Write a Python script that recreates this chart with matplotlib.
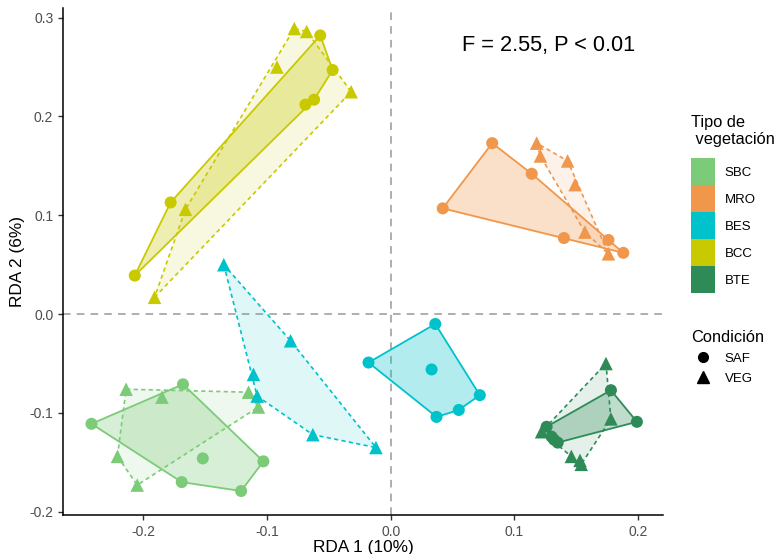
import numpy as np
import matplotlib
matplotlib.use('Agg')
import matplotlib.pyplot as plt
from matplotlib.patches import Patch, Polygon
from matplotlib.lines import Line2D

plt.rcParams['font.family'] = ['Liberation Sans', 'DejaVu Sans']

# datos (RDA1, RDA2)
veg_names = ['SBC', 'MRO', 'BES', 'BCC', 'BTE']
veg_colors = ['#7ccb78', '#f0974c', '#00c2cb', '#c9c900', '#2e8b57']

sbc_saf_x = [-0.168, -0.242, -0.152, -0.103, -0.169, -0.121]
sbc_saf_y = [-0.071, -0.111, -0.146, -0.149, -0.170, -0.179]
sbc_veg_x = [-0.214, -0.185, -0.115, -0.107, -0.221, -0.205]
sbc_veg_y = [-0.076, -0.084, -0.079, -0.094, -0.144, -0.173]

mro_saf_x = [0.082, 0.114, 0.042, 0.140, 0.176, 0.188]
mro_saf_y = [0.173, 0.142, 0.107, 0.077, 0.075, 0.062]
mro_veg_x = [0.118, 0.121, 0.143, 0.149, 0.157, 0.176]
mro_veg_y = [0.173, 0.160, 0.155, 0.131, 0.083, 0.061]

bes_saf_x = [0.036, -0.018, 0.033, 0.072, 0.055, 0.037]
bes_saf_y = [-0.010, -0.049, -0.056, -0.082, -0.097, -0.104]
bes_veg_x = [-0.135, -0.081, -0.111, -0.108, -0.063, -0.012]
bes_veg_y = [0.050, -0.027, -0.061, -0.083, -0.122, -0.135]

bcc_saf_x = [-0.057, -0.047, -0.062, -0.069, -0.178, -0.207]
bcc_saf_y = [0.282, 0.247, 0.217, 0.212, 0.113, 0.039]
bcc_veg_x = [-0.078, -0.068, -0.092, -0.032, -0.166, -0.191]
bcc_veg_y = [0.289, 0.286, 0.250, 0.225, 0.106, 0.017]

bte_saf_x = [0.178, 0.199, 0.126, 0.130, 0.135, 0.132]
bte_saf_y = [-0.077, -0.109, -0.114, -0.124, -0.130, -0.127]
bte_veg_x = [0.174, 0.178, 0.122, 0.146, 0.153, 0.154]
bte_veg_y = [-0.050, -0.106, -0.119, -0.144, -0.148, -0.152]

groups = [
    (sbc_saf_x, sbc_saf_y, sbc_veg_x, sbc_veg_y),
    (mro_saf_x, mro_saf_y, mro_veg_x, mro_veg_y),
    (bes_saf_x, bes_saf_y, bes_veg_x, bes_veg_y),
    (bcc_saf_x, bcc_saf_y, bcc_veg_x, bcc_veg_y),
    (bte_saf_x, bte_saf_y, bte_veg_x, bte_veg_y),
]


def hull(x, y):
    pts = sorted(set(zip(x, y)))
    def cross(o, a, b):
        return (a[0]-o[0])*(b[1]-o[1]) - (a[1]-o[1])*(b[0]-o[0])
    lower, upper = [], []
    for p in pts:
        while len(lower) >= 2 and cross(lower[-2], lower[-1], p) <= 0:
            lower.pop()
        lower.append(p)
    for p in reversed(pts):
        while len(upper) >= 2 and cross(upper[-2], upper[-1], p) <= 0:
            upper.pop()
        upper.append(p)
    return np.array(lower[:-1] + upper[:-1])


fig = plt.figure(figsize=(7.78, 5.54), dpi=100)
ax = fig.add_axes([0.081, 0.070, 0.771, 0.916])

ax.axhline(0, color='#999999', ls=(0, (5, 4)), lw=1.1, zorder=0)
ax.axvline(0, color='#999999', ls=(0, (5, 4)), lw=1.1, zorder=0)

for (sx, sy, vx, vy), col in zip(groups, veg_colors):
    h = hull(vx, vy)
    ax.add_patch(Polygon(h, closed=True, facecolor=col, alpha=0.12, edgecolor='none', zorder=1))
    ax.add_patch(Polygon(h, closed=True, facecolor='none', edgecolor=col, lw=1.2,
                         ls=(0, (2.5, 2)), zorder=2))
    h = hull(sx, sy)
    ax.add_patch(Polygon(h, closed=True, facecolor=col, alpha=0.3, edgecolor='none', zorder=1))
    ax.add_patch(Polygon(h, closed=True, facecolor='none', edgecolor=col, lw=1.3, zorder=2))
    ax.scatter(sx, sy, s=75, marker='o', color=col, edgecolors='none', zorder=3)
    ax.scatter(vx, vy, s=95, marker='^', color=col, edgecolors='none', zorder=3)

ax.set_xlim(-0.265, 0.22)
ax.set_ylim(-0.2035, 0.31)
ax.set_xticks([-0.2, -0.1, 0.0, 0.1, 0.2])
ax.set_yticks([-0.2, -0.1, 0.0, 0.1, 0.2, 0.3])
ax.set_xticklabels(['-0.2', '-0.1', '0.0', '0.1', '0.2'])
ax.set_yticklabels(['-0.2', '-0.1', '0.0', '0.1', '0.2', '0.3'])
ax.tick_params(labelsize=10, labelcolor='#4d4d4d', color='#333333', length=3.5, width=1)
for s in ['top', 'right']:
    ax.spines[s].set_visible(False)
for s in ['left', 'bottom']:
    ax.spines[s].set_linewidth(1.1)
ax.set_xlabel('RDA 1 (10%)', fontsize=12.4, labelpad=1)
ax.set_ylabel('RDA 2 (6%)', fontsize=12.4, labelpad=3)

ax.text(0.1276, 0.272, 'F = 2.55, P < 0.01', fontsize=15.7, ha='center', va='center')

veg_handles = [Patch(facecolor=c, edgecolor='none') for c in veg_colors]
leg1 = fig.legend(veg_handles, veg_names, title='Tipo de\n vegetación', loc='upper left',
                  bbox_to_anchor=(0.880, 0.805), frameon=False, fontsize=9.5,
                  title_fontsize=11.8, handlelength=1.82, handleheight=2.77,
                  labelspacing=0, handletextpad=0.7, borderpad=0)
leg1._legend_box.align = 'left'
leg1._legend_box.sep = 8

cond_handles = [Line2D([], [], marker='o', ls='none', color='black', markersize=7),
                Line2D([], [], marker='^', ls='none', color='black', markersize=8)]
leg2 = fig.legend(cond_handles, ['SAF', 'VEG'], title='Condición', loc='upper left',
                  bbox_to_anchor=(0.880, 0.417), frameon=False, fontsize=9.5,
                  title_fontsize=11.8, handlelength=1.82, labelspacing=0.6,
                  handletextpad=0.7, borderpad=0)
leg2._legend_box.align = 'left'

fig.savefig('out.png', dpi=100)
